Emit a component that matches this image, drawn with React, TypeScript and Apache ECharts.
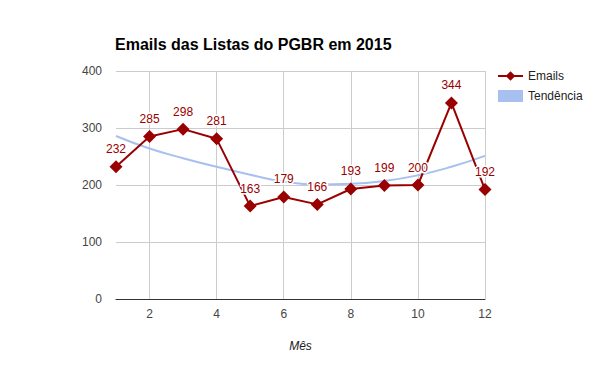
import React, { useEffect, useRef } from "react";
import * as echarts from "echarts";

const months = [1, 2, 3, 4, 5, 6, 7, 8, 9, 10, 11, 12];
const emails = [232, 285, 298, 281, 163, 179, 166, 193, 199, 200, 344, 192];
const trend = [286, 264, 247, 232, 218, 206, 201, 202, 207, 217, 232, 251];
const xTicks = [2, 4, 6, 8, 10, 12];

export default function App() {
  const ref = useRef<HTMLDivElement>(null);
  useEffect(() => {
    const chart = echarts.init(ref.current!, null, { renderer: "svg" });
    const font = "Arial, 'Liberation Sans', sans-serif";
    chart.setOption({
      animation: false,
      backgroundColor: "#fff",
      textStyle: { fontFamily: font },
      title: {
        text: "Emails das Listas do PGBR em 2015",
        left: 110,
        top: 31,
        textStyle: { fontSize: 16, fontWeight: "bold", color: "#000", fontFamily: font },
      },
      legend: {
        orient: "vertical",
        left: 492,
        top: 65,
        itemWidth: 25,
        itemHeight: 12,
        itemGap: 8,
        textStyle: { fontSize: 12, color: "#222", fontFamily: font },
        data: [
          { name: "Emails" },
          { name: "Tendência", icon: "rect" },
        ],
      },
      grid: { left: 116, right: 115, top: 71, bottom: 72 },
      xAxis: {
        type: "value",
        min: 1,
        max: 12,
        name: "Mês",
        nameLocation: "middle",
        nameGap: 41,
        nameTextStyle: { fontStyle: "italic", color: "#222", fontSize: 12, fontFamily: font },
        axisLine: { show: true, lineStyle: { color: "#333", width: 1 } },
        axisTick: { show: false },
        splitLine: { show: false },
        axisLabel: {
          customValues: xTicks,
          color: "#444",
          fontSize: 12,
          margin: 9,
          fontFamily: font,
        },
      },
      yAxis: {
        type: "value",
        min: 0,
        max: 400,
        interval: 100,
        axisLine: { show: false },
        axisTick: { show: false },
        splitLine: { lineStyle: { color: "#ccc", width: 1 } },
        axisLabel: { color: "#444", fontSize: 12, margin: 14, fontFamily: font },
      },
      series: [
        {
          name: "Tendência",
          type: "line",
          smooth: true,
          symbol: "none",
          z: 2,
          data: months.map((m, i) => [m, trend[i]]),
          lineStyle: { color: "#a7c0ef", width: 2 },
          itemStyle: { color: "#a7c0ef" },
          markLine: {
            silent: true,
            z: 1,
            symbol: "none",
            label: { show: false },
            lineStyle: { color: "#ccc", type: "solid", width: 1 },
            data: xTicks.map((v) => ({ xAxis: v })),
          },
        },
        {
          name: "Emails",
          type: "line",
          symbol: "diamond",
          symbolSize: 13,
          z: 3,
          data: months.map((m, i) => [m, emails[i]]),
          lineStyle: { color: "#990000", width: 2 },
          itemStyle: { color: "#990000" },
          label: {
            show: true,
            position: "top",
            distance: 5,
            color: "#990000",
            fontSize: 12,
            fontFamily: font,
            textBorderColor: "#fff",
            textBorderWidth: 3,
            formatter: (p: any) => String(p.value[1]),
          },
        },
      ],
    });
    return () => chart.dispose();
  }, []);
  return (
    <div
      ref={ref}
      style={{ position: "absolute", left: 0, top: 0, width: 600, height: 371 }}
    />
  );
}
